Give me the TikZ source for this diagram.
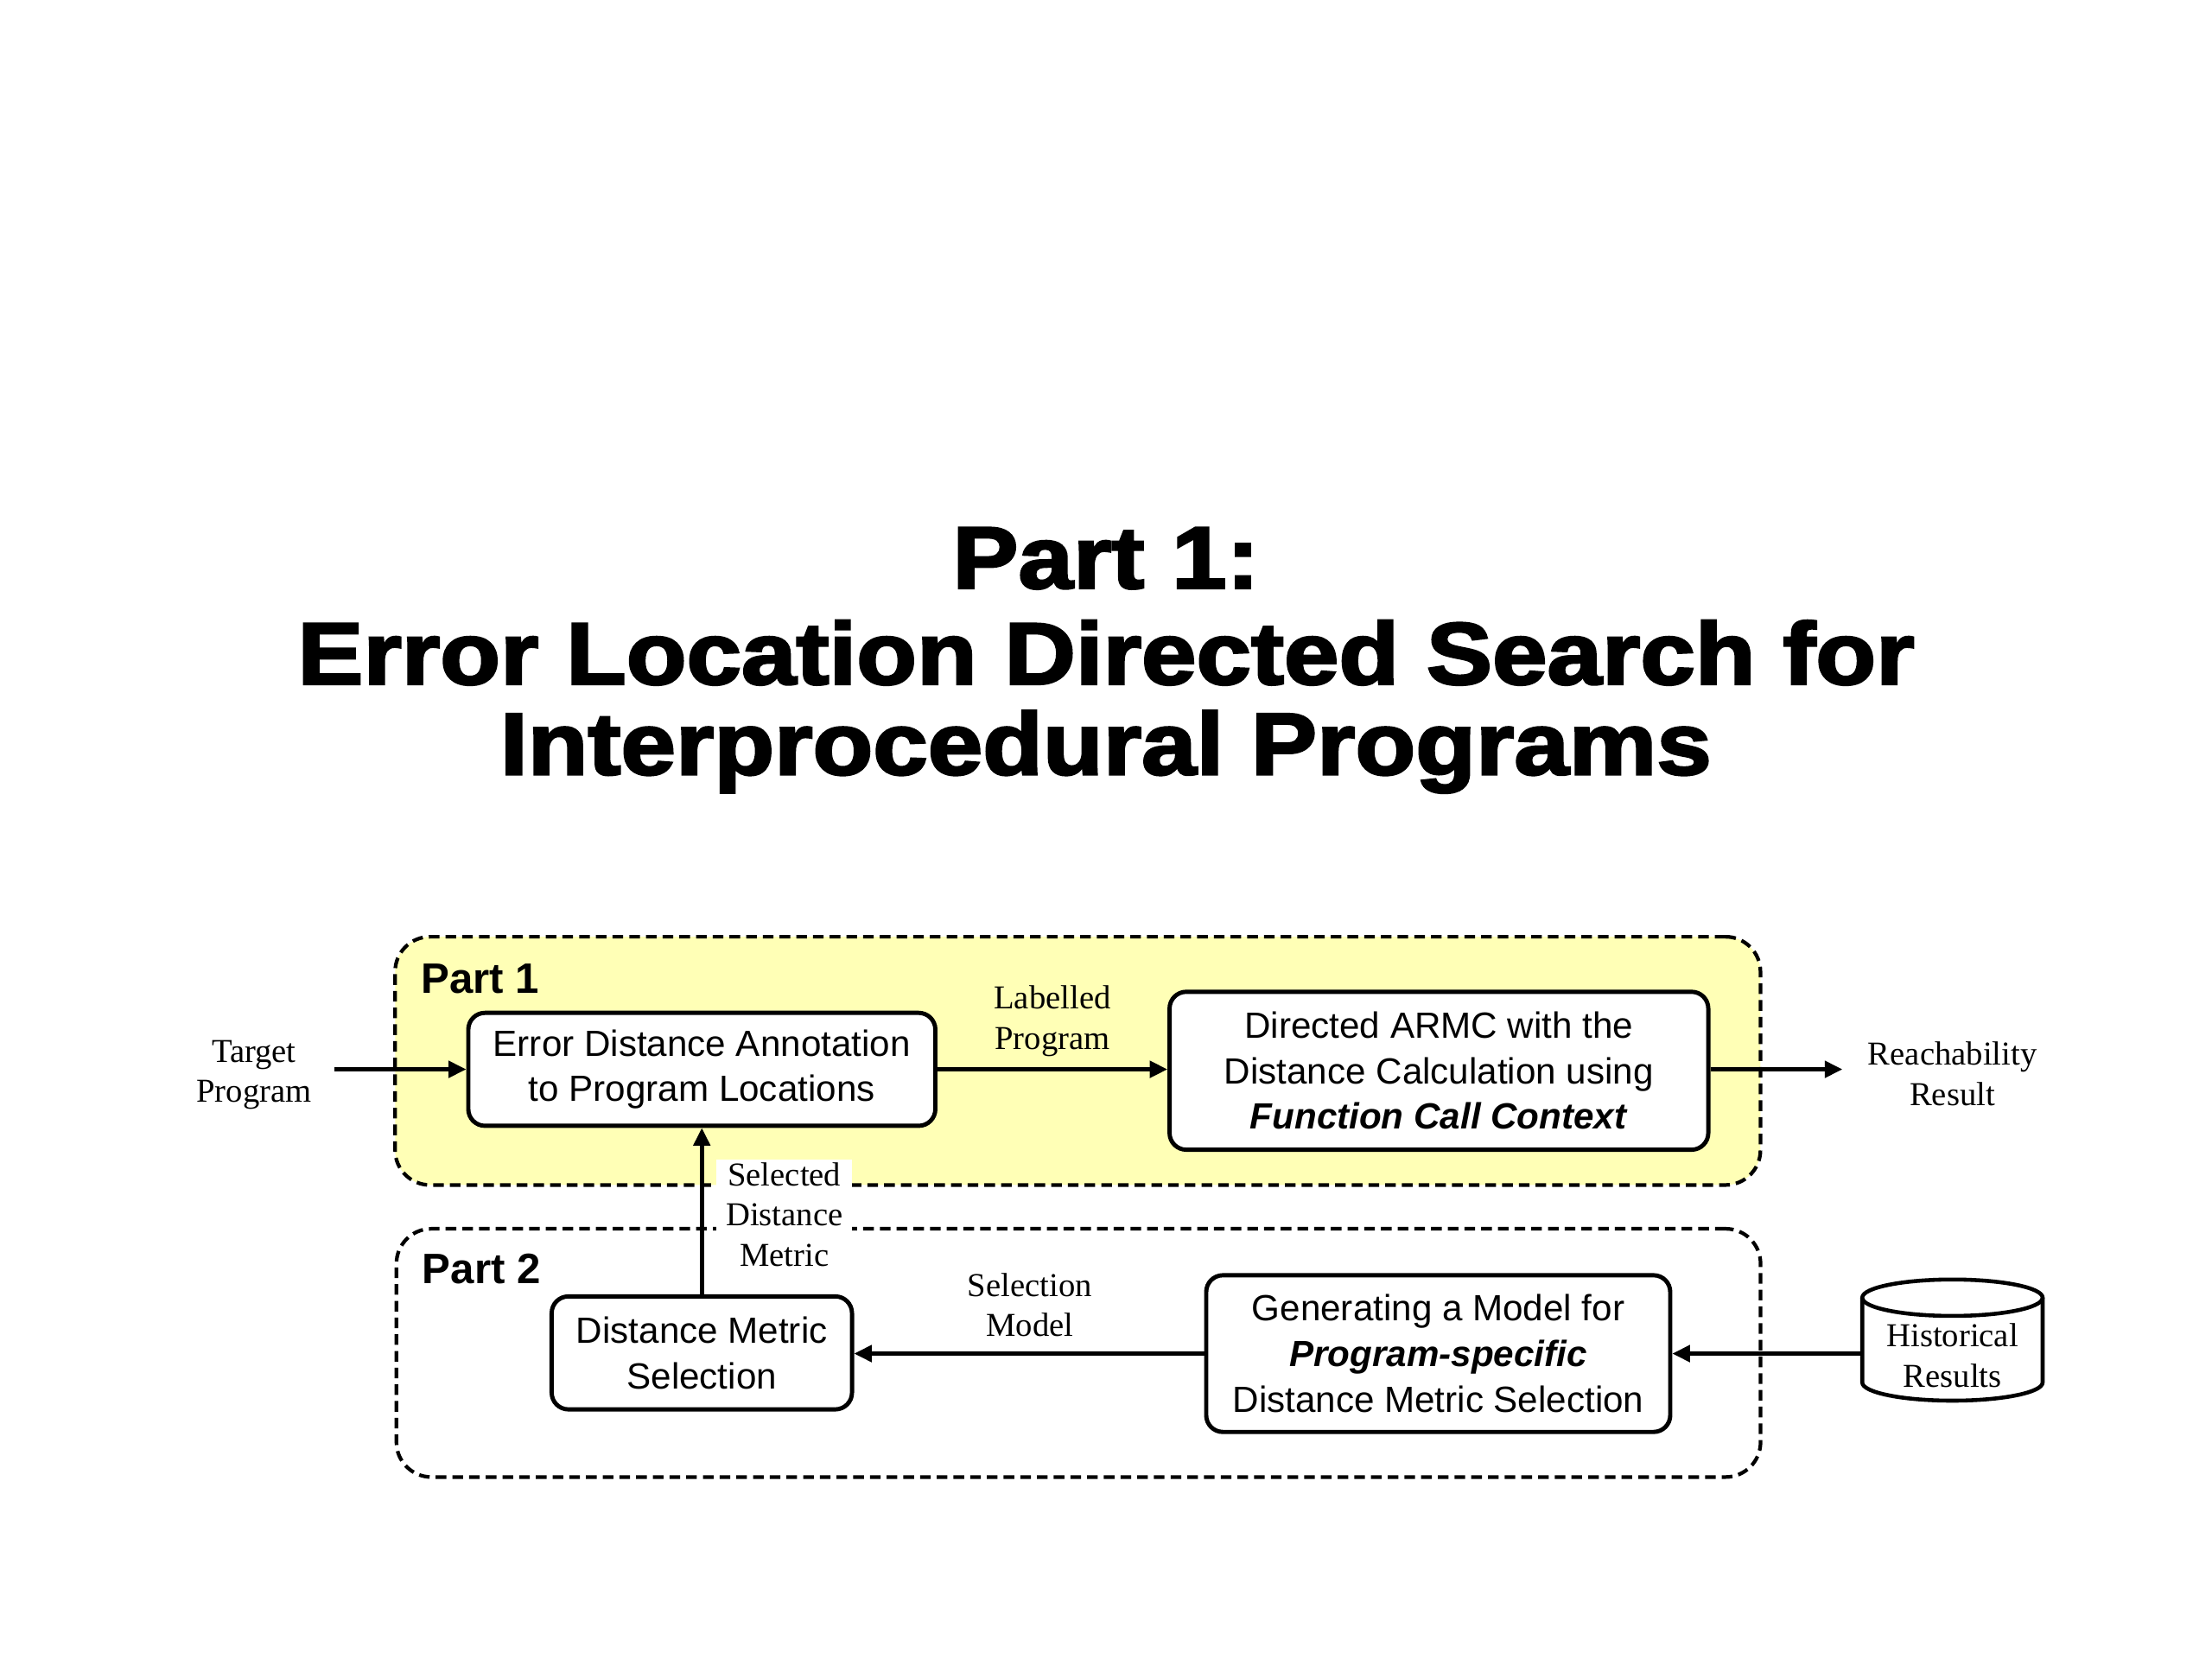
\documentclass[tikz,border=0pt]{standalone}
\usepackage{fontspec}
\setmainfont{Liberation Serif}
\newfontfamily\sans{Liberation Sans}
\newfontfamily\heavy{Liberation Sans}[FakeBold=2.5]
\usetikzlibrary{arrows.meta}
\definecolor{pyellow}{RGB}{255,255,182}
\begin{document}
\begin{tikzpicture}[x=0.016327cm,y=-0.016327cm,
  proc/.style={draw, line width=1.4pt, rounded corners=5.5pt, fill=white, align=center, inner sep=0pt,
    font=\sans\fontsize{12pt}{15pt}\selectfont},
  cont/.style={draw, line width=1.2pt, dash pattern=on 3.5pt off 2pt, rounded corners=11.5pt, inner sep=0pt},
  lbl/.style={align=center, inner sep=1pt, font=\fontsize{11pt}{13.3pt}\selectfont},
  arr/.style={line width=1.3pt, -{Triangle[length=5.8pt,width=5.4pt]}},
  partlbl/.style={anchor=base west, inner sep=0pt, font=\sans\bfseries\fontsize{14pt}{16pt}\selectfont},
  ttl/.style={anchor=base, inner sep=0pt, font=\heavy\bfseries\fontsize{29pt}{31pt}\selectfont},
  cyl/.style={line width=1.3pt}
]
\useasboundingbox[fill=white] (0,0) rectangle (1568,1176);

% title
\node[ttl] (t1) at (784,417) {\scalebox{1.12}[1]{Part 1:}};
\node[ttl] (t2) at (784,485) {\scalebox{1.12}[1]{Error Location Directed Search for}};
\node[ttl] (t3) at (784,549) {\scalebox{1.12}[1]{Interprocedural Programs}};

% containers
\node[cont, fill=pyellow, minimum width=449.6pt, minimum height=81.75pt] (P1) at (764,752) {};
\node[cont, minimum width=449.2pt, minimum height=81.75pt] (P2) at (764.5,959) {};
\node[partlbl] (p1l) at (298,704) {Part 1};
\node[partlbl] (p2l) at (299,910) {Part 2};

% label crossing both containers
\node[lbl, fill=white, minimum width=44.6pt] (sdm) at (556,861) {Selected\\Distance\\Metric};

% process boxes
\node[proc, minimum width=153.8pt, minimum height=37.2pt] (A) at (497.5,758) {Error Distance Annotation\\to Program Locations};
\node[proc, minimum width=177.4pt, minimum height=52pt] (B) at (1020,759) {Directed ARMC with the\\Distance Calculation using\\\textbf{\textit{Function Call Context}}};
\node[proc, minimum width=98.9pt, minimum height=37.2pt] (C) at (497.5,959) {Distance Metric\\Selection};
\node[proc, minimum width=152.8pt, minimum height=51.6pt] (D) at (1019.5,959.5) {Generating a Model for\\\textbf{\textit{Program-specific}}\\Distance Metric Selection};

% outer labels
\node[lbl] (tp) at (180,762) {Target\\Program};
\node[lbl] (lp) at (746,724) {Labelled\\Program};
\node[lbl] (rr) at (1384,761) {Reachability\\Result};
\node[lbl] (sm) at (730,925) {Selection\\Model};

% database
\node[lbl, inner sep=0pt, minimum width=59.5pt] (hist) at (1384,961) {Historical\\Results};
\begin{scope}[shift={(hist.center)}]
  \draw[cyl] (0,19.1pt) ellipse [x radius=29.7pt, y radius=6pt];
  \draw[cyl] (-29.7pt,19.1pt) -- (-29.7pt,-8.8pt) arc[start angle=180, end angle=360, x radius=29.7pt, y radius=6pt] -- (29.7pt,19.1pt);
\end{scope}

% connectors
\coordinate (tin) at (237,758);
\coordinate (rout) at (1306,758);
\draw[arr] (tin) -- (A.west);
\draw[arr] (A.east) -- (B.west |- A.east);
\draw[arr] (B.east |- rout) -- (rout);
\draw[arr] (hist.west |- D.east) -- (D.east);
\draw[arr] (D.west) -- (C.east |- D.west);
\draw[arr] (C.north) -- (A.south);
\end{tikzpicture}
\end{document}
